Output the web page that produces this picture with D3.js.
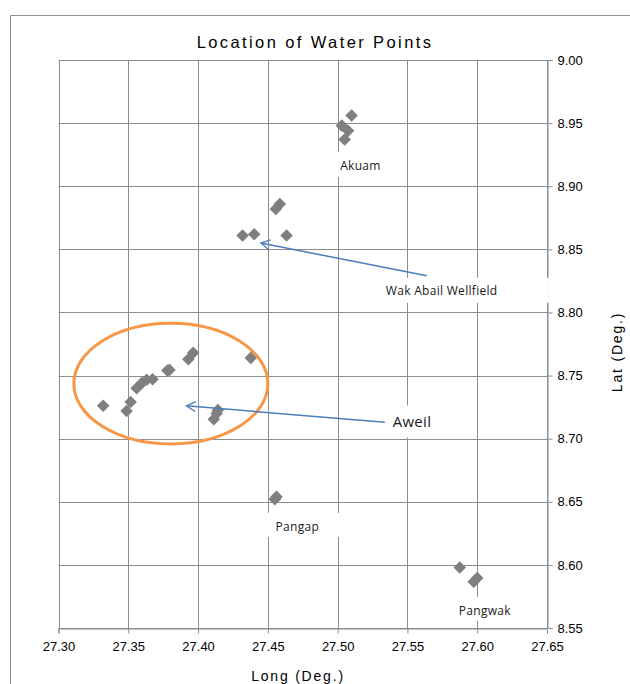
<!DOCTYPE html>
<html>
<head>
<meta charset="utf-8">
<script src="https://cdn.jsdelivr.net/npm/d3@7"></script>
<style>
  body { margin: 0; background: #fff; }
  svg { display: block; }
</style>
</head>
<body>
<svg></svg>
<script>
// ====== data ====== //
const sites = ["Akuam", "Wak Abail Wellfield", "Aweil", "Pangap", "Pangwak"];

const lon_akuam = [27.510, 27.503, 27.5075, 27.505];
const lat_akuam = [8.956, 8.948, 8.944, 8.937];

const lon_wak = [27.4557, 27.4586, 27.4319, 27.4402, 27.4634];
const lat_wak = [8.882, 8.886, 8.861, 8.862, 8.861];

const lon_aweil = [27.332, 27.3488, 27.3517, 27.356, 27.3596, 27.3632, 27.3674, 27.378, 27.3795,
                   27.393, 27.3965, 27.4378, 27.4133, 27.4113, 27.4142];
const lat_aweil = [8.726, 8.722, 8.729, 8.740, 8.744, 8.7466, 8.747, 8.754, 8.7545,
                   8.763, 8.768, 8.764, 8.720, 8.7154, 8.7228];

const lon_pangap = [27.455, 27.4562];
const lat_pangap = [8.652, 8.654];

const lon_pangwak = [27.5875, 27.5975, 27.600];
const lat_pangwak = [8.598, 8.5866, 8.5897];

const xTicks = [27.30, 27.35, 27.40, 27.45, 27.50, 27.55, 27.60, 27.65];
const yTicks = [8.55, 8.60, 8.65, 8.70, 8.75, 8.80, 8.85, 8.90, 8.95, 9.00];

const width = 630, height = 684;

const svg = d3.select('svg')
    .attr('width', width)
    .attr('height', height);

// ====== scales ====== //
const x = d3.scaleLinear().domain([27.30, 27.65]).range([58.5, 547]);
const y = d3.scaleLinear().domain([8.55, 9.00]).range([628, 60]);

const gridCol = "#8c8c8c";

// chart area border
svg.append("path")
    .attr("d", `M10.5,${height} L10.5,15.5 L${width},15.5`)
    .attr("fill", "none")
    .attr("stroke", "#8c8c8c")
    .attr("stroke-width", 1);

// title
svg.append("text")
    .attr("x", 315).attr("y", 48)
    .attr("text-anchor", "middle")
    .style("font-family", "Liberation Sans, Arial, sans-serif")
    .style("font-size", "16.5px")
    .style("letter-spacing", "2.4px")
    .attr("fill", "#000")
    .text("Location of Water Points");

// grid
const grid = svg.append("g");
grid.selectAll(".vg").data(xTicks).enter().append("line")
    .attr("x1", d => Math.round(x(d)) + 0.5).attr("x2", d => Math.round(x(d)) + 0.5)
    .attr("y1", y(9.00)).attr("y2", y(8.55))
    .attr("stroke", gridCol);
grid.selectAll(".hg").data(yTicks).enter().append("line")
    .attr("y1", d => Math.round(y(d)) + 0.5).attr("y2", d => Math.round(y(d)) + 0.5)
    .attr("x1", x(27.30)).attr("x2", x(27.65))
    .attr("stroke", gridCol);

// axes
const xAxis = svg.append("g")
    .attr("transform", `translate(0,${Math.round(y(8.55)) + 0.5})`)
    .call(d3.axisBottom(x).tickValues(xTicks).tickFormat(d3.format(".2f")).tickSize(5).tickPadding(6));
const yAxis = svg.append("g")
    .attr("transform", `translate(${Math.round(x(27.65)) + 0.5},0)`)
    .call(d3.axisRight(y).tickValues(yTicks).tickFormat(d3.format(".2f")).tickSize(5).tickPadding(5));

[xAxis, yAxis].forEach(a => {
  a.select(".domain").attr("stroke", gridCol);
  a.selectAll(".tick line").attr("stroke", gridCol);
  a.selectAll(".tick text")
    .style("font-family", "Liberation Sans, Arial, sans-serif")
    .style("font-size", "13px")
    .attr("fill", "#000");
});
xAxis.selectAll(".tick text").attr("dy", "0.9em");

// axis titles
svg.append("text")
    .attr("x", 298).attr("y", 681)
    .attr("text-anchor", "middle")
    .style("font-family", "Liberation Sans, Arial, sans-serif")
    .style("font-size", "14px")
    .style("letter-spacing", "1.8px")
    .text("Long (Deg.)");
svg.append("text")
    .attr("transform", "translate(622,352) rotate(-90)")
    .attr("text-anchor", "middle")
    .style("font-family", "Liberation Sans, Arial, sans-serif")
    .style("font-size", "14px")
    .style("letter-spacing", "1.8px")
    .text("Lat (Deg.)");

// ====== points ====== //
const groups = [
  [lon_akuam, lat_akuam], [lon_wak, lat_wak], [lon_aweil, lat_aweil],
  [lon_pangap, lat_pangap], [lon_pangwak, lat_pangwak]
];
const pts = [];
groups.forEach((g, i) => g[0].forEach((lo, j) => pts.push({site: sites[i], lon: lo, lat: g[1][j]})));

const diamond = d3.symbol().type(d3.symbolDiamond2).size(100);
svg.append("g").selectAll("path").data(pts).enter().append("path")
    .attr("d", diamond)
    .attr("transform", d => `translate(${x(d.lon)},${y(d.lat)})`)
    .attr("fill", "#7f7f7f");

// ====== annotations ====== //
// ellipse round Aweil
svg.append("ellipse")
    .attr("cx", x(27.3805)).attr("cy", y(8.7436))
    .attr("rx", x(27.3805 + 0.0695) - x(27.3805))
    .attr("ry", y(8.7436) - y(8.7436 + 0.0478))
    .attr("fill", "none")
    .attr("stroke", "#f79646")
    .attr("stroke-width", 3);

// arrows
svg.append("defs").append("marker")
    .attr("id", "arrow")
    .attr("viewBox", "-10 -6 12 12")
    .attr("refX", 0).attr("refY", 0)
    .attr("markerWidth", 12).attr("markerHeight", 12)
    .attr("markerUnits", "userSpaceOnUse")
    .attr("orient", "auto")
    .append("path")
    .attr("d", "M-9,-5 L0,0 L-9,5")
    .attr("fill", "none")
    .attr("stroke", "#4a7ebb")
    .attr("stroke-width", 1.3);

const arrows = [
  {from: [27.5639, 8.829], to: [27.445, 8.855]},
  {from: [27.5338, 8.713], to: [27.3917, 8.726]}
];
svg.append("g").selectAll("line").data(arrows).enter().append("line")
    .attr("x1", d => x(d.from[0])).attr("y1", d => y(d.from[1]))
    .attr("x2", d => x(d.to[0])).attr("y2", d => y(d.to[1]))
    .attr("stroke", "#4a7ebb")
    .attr("stroke-width", 1.5)
    .attr("marker-end", "url(#arrow)");

// labels with white boxes
const labels = [
  {text: "Akuam", lon: 27.5018, lat: 8.913, size: 12, box: [-3, 57, -18, 7]},
  {text: "Wak Abail Wellfield", lon: 27.5345, lat: 8.814, size: 12, box: [-8, 163, -17, 8]},
  {text: "Aweil", lon: 27.5394, lat: 8.7089, size: 15, box: [-7, 60, -22, 10]},
  {text: "Pangap", lon: 27.4555, lat: 8.627, size: 12, box: [-8, 64, -18, 6]},
  {text: "Pangwak", lon: 27.5868, lat: 8.5604, size: 12, box: [-7, 62, -18, 6]}
];
const lg = svg.append("g").selectAll("g").data(labels).enter().append("g")
    .attr("transform", d => `translate(${x(d.lon)},${y(d.lat)})`);
lg.append("rect")
    .attr("x", d => d.box[0]).attr("width", d => d.box[1] - d.box[0])
    .attr("y", d => d.box[2]).attr("height", d => d.box[3] - d.box[2])
    .attr("fill", "#fff");
lg.append("text")
    .style("font-family", "Open Sans, Noto Sans, sans-serif")
    .style("font-size", d => d.size + "px")
    .style("letter-spacing", d => d.size > 12 ? "0.3px" : "0.3px")
    .attr("fill", "#1a1a1a")
    .text(d => d.text);
</script>
</body>
</html>
